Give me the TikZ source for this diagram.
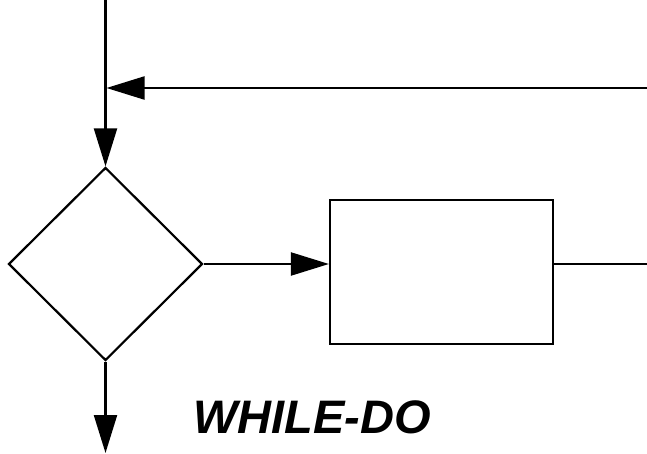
\documentclass[tikz,border=0pt]{standalone}
\usepackage{fontspec}
\setsansfont{Liberation Sans}
\usetikzlibrary{shapes.geometric,arrows.meta,positioning}

\tikzstyle{arrow} = [draw, -{Triangle[length=38pt, width=23pt]}]
\tikzstyle{decision} = [diamond, draw, inner sep=0pt, minimum width=194pt, minimum height=193pt]
\tikzstyle{process} = [rectangle, draw, inner sep=0pt, minimum width=223pt, minimum height=144pt]

\begin{document}
\begin{tikzpicture}[x=1pt, y=-1pt, line width=2.2pt]
    \useasboundingbox (0,0) rectangle (647,454);

    % blocks
    \node [decision] (cond) at (105.5,264) {};
    \node [process] (body) at (441.5,272) {};

    % free ends
    \coordinate (entry) at (105.5,0);
    \coordinate (back) at (647,88);
    \coordinate (out) at (647,264);
    \coordinate (exit) at (105.5,453);
    \coordinate (join) at (entry |- back);

    % flow
    \draw [arrow] (entry) -- (cond.north);
    \draw [arrow] (back) -- ([xshift=1pt]join);
    \draw [arrow] (cond.east) -- (cond.east -| body.west);
    \draw (cond.east -| body.east) -- (cond.east -| out);
    \draw [arrow] (cond.south) -- (exit);

    % label
    \node [font=\sffamily\bfseries\itshape\fontsize{47}{56}\selectfont, anchor=base west] (title) at (189,433) {WHILE-DO};
\end{tikzpicture}
\end{document}
